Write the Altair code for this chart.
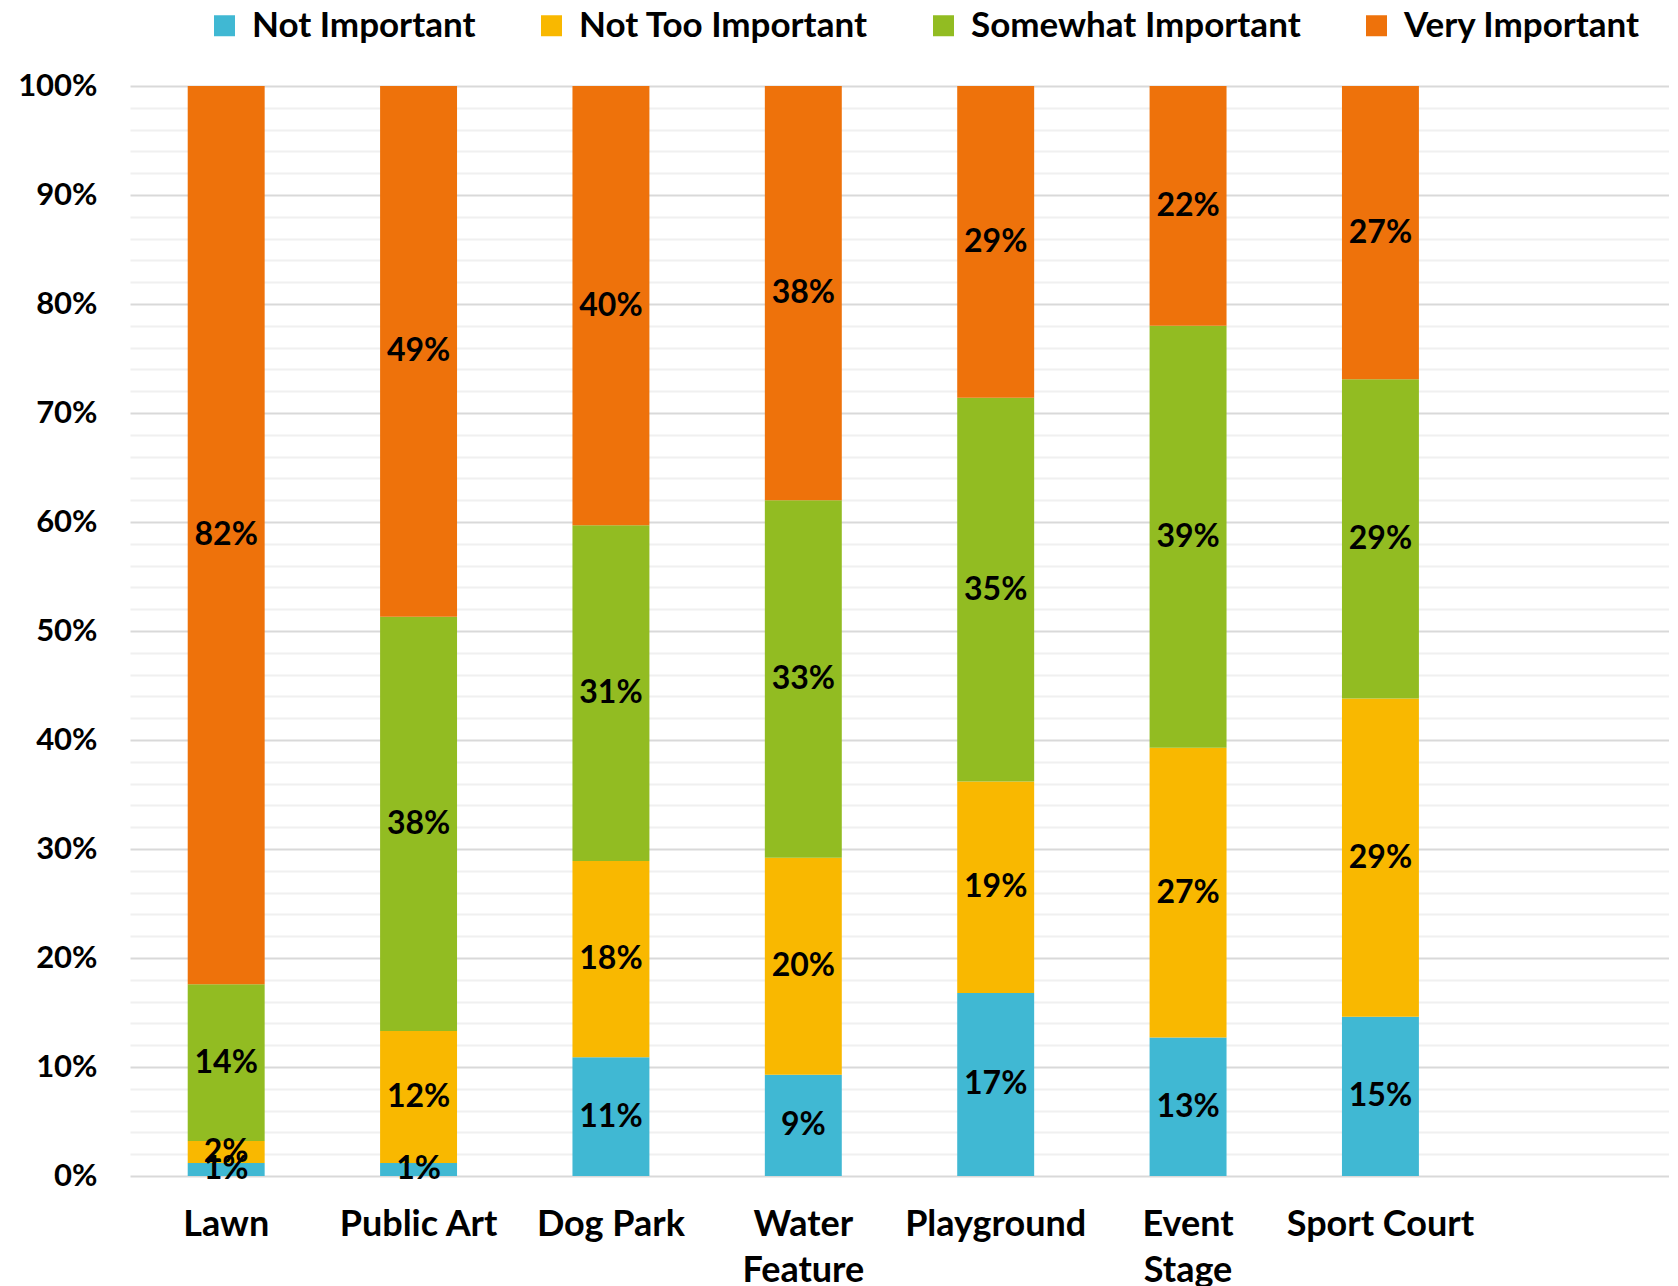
import altair as alt
import pandas as pd

categories = ["Lawn", "Public Art", "Dog Park", "Water Feature", "Playground", "Event Stage", "Sport Court"]
levels = ["Not Important", "Not Too Important", "Somewhat Important", "Very Important"]
not_important = [1.2, 1.2, 10.9, 9.3, 16.8, 12.7, 14.6]
not_too_important = [2.0, 12.1, 18.0, 19.9, 19.4, 26.6, 29.2]
somewhat_important = [14.4, 38.0, 30.8, 32.8, 35.2, 38.7, 29.3]
very_important = [82.4, 48.7, 40.3, 38.0, 28.6, 22.0, 26.9]
colors = ["#40B8D3", "#F9B800", "#92BC22", "#EE720B"]
y_ticks = [i / 50 for i in range(51)]

series = [not_important, not_too_important, somewhat_important, very_important]
rows = []
for li, (lvl, vals) in enumerate(zip(levels, series)):
    for c, v in zip(categories, vals):
        rows.append({"category": c, "level": lvl, "order": li, "value": v / 100})
df = pd.DataFrame(rows)

FONT = "Lato"
x_domain = categories + [" "]

x_enc = alt.X(
    "category:N",
    scale=alt.Scale(domain=x_domain, paddingInner=0.6, paddingOuter=0.3),
    axis=alt.Axis(
        title=None, labelAngle=0, ticks=False, domain=False,
        labelFont=FONT, labelFontSize=36, labelFontWeight="bold", labelColor="#000000",
        labelPadding=31, labelLineHeight=46, labelBaseline="top", labelLimit=0,
        labelExpr="indexof(['Water Feature','Event Stage'], datum.label) >= 0 ? split(datum.label, ' ') : datum.label",
    ),
)

y_axis = alt.Axis(
    title=None, values=y_ticks, ticks=False, domain=False,
    labelOverlap=False, labelFont=FONT, labelFontSize=31, labelFontWeight="bold",
    labelColor="#000000", labelPadding=33, minExtent=122,
    labelExpr="round(datum.value*100) % 10 == 0 ? format(datum.value, '.0%') : ''",
    gridColor={"condition": {"test": "round(datum.value*100) % 10 == 0", "value": "#d9d9d9"}, "value": "#f0f0f0"},
    gridWidth=2,
)

base = alt.Chart(df).transform_stack(
    stack="value", groupby=["category"], sort=[alt.SortField("order")], as_=["y0", "y1"]
).transform_calculate(mid="(datum.y0 + datum.y1) / 2")

bars = base.mark_bar().encode(
    x=x_enc,
    y=alt.Y("y0:Q", scale=alt.Scale(domain=[0, 1]), axis=y_axis),
    y2="y1:Q",
    color=alt.Color(
        "level:N",
        scale=alt.Scale(domain=levels, range=colors),
        legend=alt.Legend(
            title=None, orient="none", direction="horizontal", legendX=77, legendY=-78,
            symbolType="square", symbolSize=441, symbolStrokeWidth=0,
            labelFont=FONT, labelFontSize=35, labelFontWeight="bold", labelColor="#000000",
            labelOffset=10, columnPadding=58, padding=0, labelLimit=0,
        ),
    ),
)

labels = base.mark_text(
    font=FONT, fontSize=32, fontWeight="bold", color="#000000", baseline="middle"
).encode(
    x=x_enc,
    y=alt.Y("mid:Q", scale=alt.Scale(domain=[0, 1]), axis=y_axis),
    text=alt.Text("value:Q", format=".0%"),
)

chart = alt.layer(bars, labels).properties(
    width=1539, height=1090, padding=0
).configure_view(stroke=None)

chart.save("out.html", embed_options={"renderer": "svg", "actions": False})
